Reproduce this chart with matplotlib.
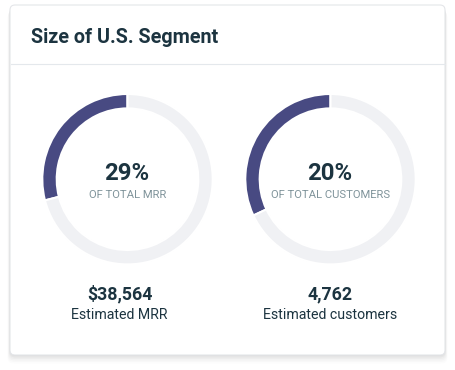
import matplotlib
matplotlib.use("Agg")
import matplotlib.pyplot as plt
from matplotlib.patches import FancyBboxPatch

# ---- data ----
title = "Size of U.S. Segment"
arc_fractions = [0.29, 0.32]          # share of ring drawn dark
pct_labels = ["29%", "20%"]
sub_labels = ["OF TOTAL MRR", "OF TOTAL CUSTOMERS"]
value_labels = ["$38,564", "4,762"]
caption_labels = ["Estimated MRR", "Estimated customers"]

W, H = 455, 370
DARK = "#484a82"
LIGHT = "#f0f1f4"
TXT = "#1c3440"
SUB = "#7f939a"

plt.rcParams['font.family'] = ['Roboto', 'DejaVu Sans']

fig = plt.figure(figsize=(W / 100, H / 100), dpi=100)
ax = fig.add_axes([0, 0, 1, 1])

# card shadow
for i, a in enumerate([0.035, 0.03, 0.025, 0.02, 0.015, 0.01]):
    off = 1 + i * 1.5
    ax.add_patch(FancyBboxPatch((10 - off * 0.3, 15 - off), 435 + off * 0.6, 350 + off * 0.2,
                                boxstyle="round,pad=0,rounding_size=6",
                                facecolor="black", edgecolor="none", alpha=a, zorder=0))
# card
ax.add_patch(FancyBboxPatch((10, 15), 435, 350, boxstyle="round,pad=0,rounding_size=5",
                            facecolor="white", edgecolor="#e4e6e9", linewidth=0.8, zorder=1))
ax.plot([10.5, 444.5], [306.5, 306.5], color="#e4e8ec", linewidth=0.8, zorder=2)

ax.text(31, 327, title, fontsize=14.2, fontweight='bold', color=TXT,
        ha='left', va='baseline', zorder=3)

centers_x = [127.5, 330.5]
center_y = 190.8
for i in range(2):
    f = arc_fractions[i]
    cx = centers_x[i]
    ax.pie([f, 1 - f], colors=[DARK, LIGHT], startangle=90, counterclock=True,
           radius=85.2, center=(cx, center_y),
           wedgeprops=dict(width=14.4, edgecolor='white', linewidth=1.5),
           frame=True)
    ax.text(cx - 1, 190, pct_labels[i], fontsize=17.2, fontweight='bold', color=TXT,
            ha='center', va='baseline', zorder=3)
    ax.text(cx, 171.7, sub_labels[i], fontsize=8.1, color=SUB,
            ha='center', va='baseline', zorder=3)
    vx = cx - 8 if i == 0 else cx
    ax.text(vx, 70.7, value_labels[i], fontsize=12.8, fontweight='bold',
            color=TXT, ha='center', va='baseline', zorder=3)
    ax.text(vx, 51, caption_labels[i], fontsize=10.2, color=TXT,
            ha='center', va='baseline', zorder=3)

ax.set_xlim(0, W)
ax.set_ylim(0, H)
ax.set_aspect('equal')
ax.axis('off')

fig.savefig("out.png", dpi=100, facecolor="white")
